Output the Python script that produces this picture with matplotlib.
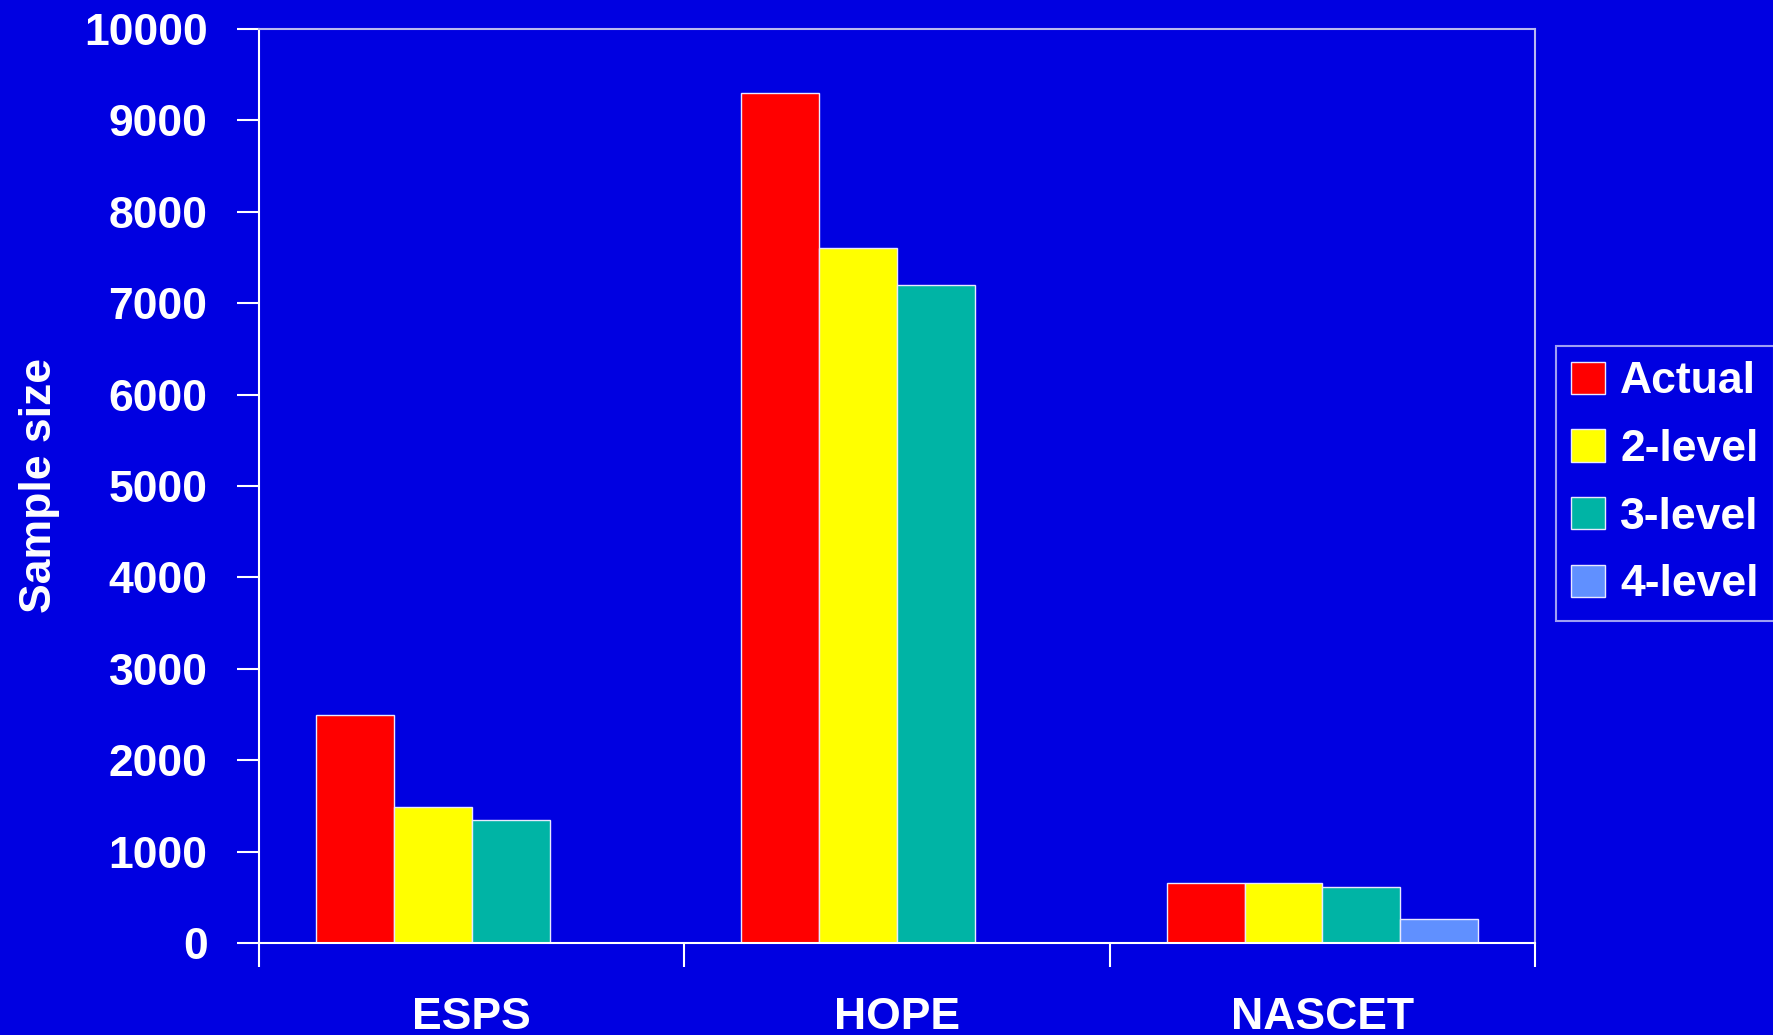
import numpy as np
import matplotlib.pyplot as plt

plt.rcParams['font.family'] = ['Liberation Sans', 'DejaVu Sans']
plt.rcParams['font.weight'] = 'bold'

trials = ["ESPS", "HOPE", "NASCET"]
series = ["Actual", "2-level", "3-level", "4-level"]
actual = [2490, 9300, 655]
level2 = [1490, 7600, 655]
level3 = [1350, 7200, 615]
level4 = [0, 0, 262]
colors = ["#FF0000", "#FFFF00", "#00B4A5", "#6090FF"]

bg = "#0000E1"
fs = 32

fig = plt.figure(figsize=(17.74, 10.35), dpi=100, facecolor=bg)
ax = fig.add_axes([0.146, 0.0889, 0.7193, 0.8831], facecolor=bg)

x = np.arange(len(trials))
w = 0.183
for i, (vals, c, name) in enumerate(zip([actual, level2, level3, level4], colors, series)):
    ax.bar(x + (i - 1.5) * w, vals, w, color=c, edgecolor="#E8E8FF", linewidth=1.0, label=name)

ax.set_xlim(-0.5, 2.5)
ax.set_ylim(0, 10000)
ax.set_yticks(np.arange(0, 10001, 1000))
ax.set_xticks([-0.5, 0.5, 1.5, 2.5])
ax.set_xticklabels([])
ax.set_xticks(x, minor=True)
ax.set_xticklabels(trials, minor=True)

ax.tick_params(axis="y", colors="white", labelsize=fs, length=16, width=1.5, pad=21)
ax.tick_params(axis="x", which="major", colors="white", length=17, width=1.5)
ax.tick_params(axis="x", which="minor", colors="white", labelsize=fs, length=0, pad=39)

for s in ["left", "bottom"]:
    ax.spines[s].set_color("white")
    ax.spines[s].set_linewidth(1.5)
for s in ["top", "right"]:
    ax.spines[s].set_color("#B8B8F0")
    ax.spines[s].set_linewidth(1.5)

ax.set_ylabel("Sample size", color="white", fontsize=fs, fontweight="bold")
ax.yaxis.set_label_coords(-0.156, 0.5)

for lbl in ax.get_yticklabels() + ax.get_xticklabels(minor=True):
    lbl.set_fontweight("bold")

leg = fig.legend(loc="center left", bbox_to_anchor=(0.877, 0.533), frameon=True,
                 fancybox=False, facecolor=bg, edgecolor="#C8C8F8",
                 fontsize=fs, labelcolor="white", handlelength=0.75, handleheight=0.75,
                 handletextpad=0.35, labelspacing=0.6, borderpad=0.35, borderaxespad=0)
leg.get_frame().set_linewidth(1.5)
for t in leg.get_texts():
    t.set_fontweight("bold")

fig.savefig("out.png", dpi=100, facecolor=bg)
